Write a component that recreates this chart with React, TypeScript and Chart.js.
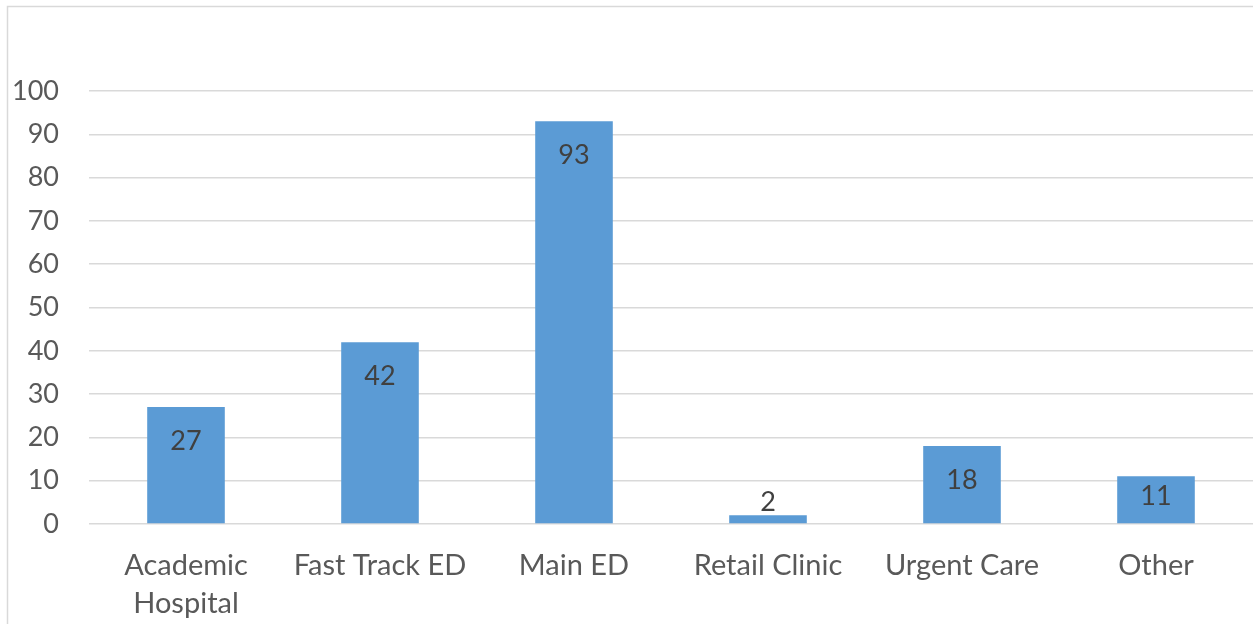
import React, { useEffect, useRef } from "react";
import { Chart, registerables } from "chart.js";

Chart.register(...registerables);

const categories: (string | string[])[] = [
  ["Academic", "Hospital"],
  "Fast Track ED",
  "Main ED",
  "Retail Clinic",
  "Urgent Care",
  "Other",
];
const values: number[] = [27, 42, 93, 2, 18, 11];
const yMin = 0;
const yMax = 100;
const yStep = 10;

const FONT = "Lato, 'Open Sans', sans-serif";

const framePlugin = {
  id: "frame",
  beforeDraw(chart: any) {
    const ctx = chart.ctx;
    ctx.save();
    ctx.fillStyle = "#ffffff";
    ctx.fillRect(0, 0, chart.width, chart.height);
    ctx.strokeStyle = "#d9d9d9";
    ctx.lineWidth = 1.5;
    ctx.strokeRect(7.5, 6.5, chart.width + 20, chart.height + 20);
    ctx.restore();
  },
};

const labelPlugin = {
  id: "barLabels",
  afterDatasetsDraw(chart: any) {
    const ctx = chart.ctx;
    const meta = chart.getDatasetMeta(0);
    ctx.save();
    ctx.font = `27px ${FONT}`;
    ctx.fillStyle = "#404040";
    ctx.textAlign = "center";
    ctx.textBaseline = "middle";
    meta.data.forEach((bar: any, i: number) => {
      const v = chart.data.datasets[0].data[i];
      const top = bar.y;
      const h = bar.base - bar.y;
      let y: number;
      if (h < 30) y = top - 13;
      else y = top + Math.min(34, h - 27);
      ctx.fillText(String(v), bar.x, y);
    });
    ctx.restore();
  },
};

export default function App() {
  const ref = useRef<HTMLCanvasElement>(null);
  useEffect(() => {
    if (!ref.current) return;
    const chart = new Chart(ref.current, {
      type: "bar",
      data: {
        labels: categories,
        datasets: [
          {
            data: values,
            backgroundColor: "#5b9bd5",
            borderWidth: 0,
            barPercentage: 0.4,
            categoryPercentage: 1,
          },
        ],
      },
      options: {
        responsive: false,
        animation: false,
        devicePixelRatio: 1,
        layout: { padding: { top: 91, right: 0, left: 0, bottom: 0 } },
        plugins: {
          legend: { display: false },
          tooltip: { enabled: false },
        },
        scales: {
          x: {
            grid: { display: false, drawTicks: false },
            border: { display: false },
            ticks: {
              color: "#595959",
              font: { family: FONT, size: 29, lineHeight: 1.3 },
              padding: 23,
              maxRotation: 0,
              autoSkip: false,
            },
            afterFit(scale: any) {
              scale.height = 100;
            },
          },
          y: {
            min: yMin,
            max: yMax,
            grid: { color: "#d9d9d9", lineWidth: 1.5, drawTicks: false },
            border: { display: false },
            ticks: {
              stepSize: yStep,
              color: "#595959",
              font: { family: FONT, size: 27 },
              padding: 30,
            },
            afterFit(scale: any) {
              scale.width = 89;
            },
          },
        },
      },
      plugins: [framePlugin, labelPlugin],
    });
    return () => chart.destroy();
  }, []);
  return (
    <div style={{ position: "fixed", left: 0, top: 0, width: 1253, height: 624 }}>
      <canvas ref={ref} width={1253} height={624} style={{ width: 1253, height: 624, display: "block" }} />
    </div>
  );
}
